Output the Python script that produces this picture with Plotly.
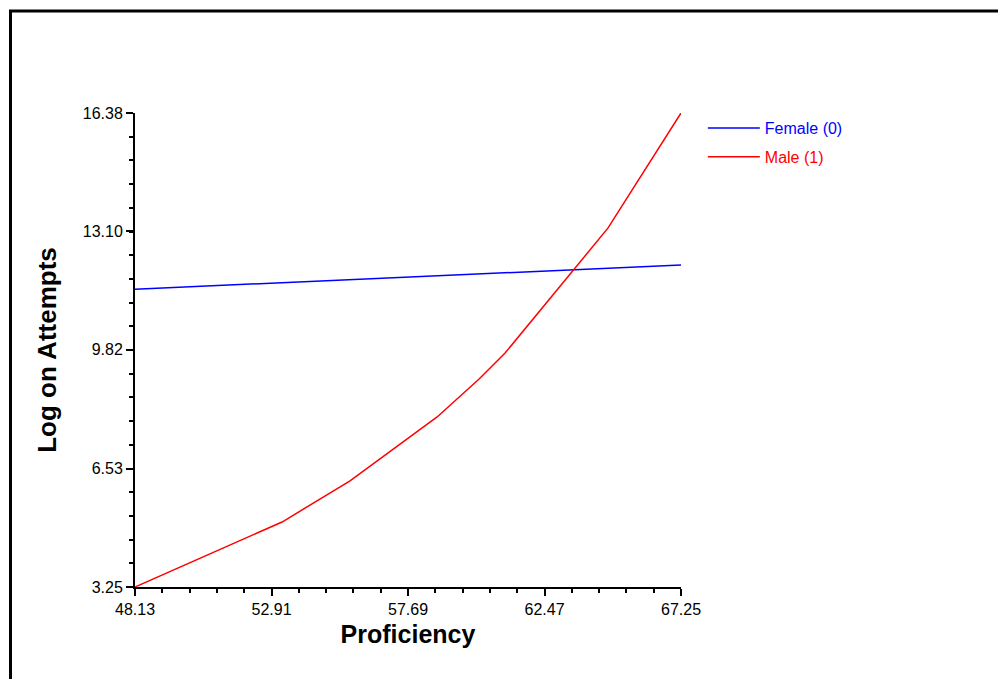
import plotly.graph_objects as go

# Proficiency values where the fitted curves are evaluated
proficiency = [48.13, 53.28, 55.66, 58.71, 60.18, 61.09, 64.69, 67.25]

# Predicted log-on attempts per group
female_attempts = [11.50, 11.68, 11.76, 11.87, 11.92, 11.95, 12.08, 12.17]
male_attempts = [3.25, 5.05, 6.19, 7.96, 9.01, 9.73, 13.19, 16.38]

# Axis tick values and labels
x_ticks = [48.13, 52.91, 57.69, 62.47, 67.25]
x_ticktext = ["48.13", "52.91", "57.69", "62.47", "67.25"]
y_ticks = [3.25, 6.53, 9.82, 13.10, 16.38]
y_ticktext = ["3.25", "6.53", "9.82", "13.10", "16.38"]

FONT = "Liberation Sans, Arial, sans-serif"

fig = go.Figure()
fig.add_trace(go.Scatter(
    x=proficiency, y=female_attempts, mode="lines",
    name="<span style='color:#0000ff'>Female (0)</span>",
    line=dict(color="#0000ff", width=1.5), legendgroup="f",
))
fig.add_trace(go.Scatter(
    x=proficiency, y=male_attempts, mode="lines",
    name="<span style='color:#ff0000'>Male (1)</span>",
    line=dict(color="#ff0000", width=1.5), legendgroup="m",
))

axis_common = dict(
    showgrid=False, zeroline=False, showline=True, linecolor="black",
    linewidth=2, ticks="outside", ticklen=7, tickwidth=2, tickcolor="black",
    tickfont=dict(family=FONT, size=16, color="black"),
    minor=dict(ticks="outside", ticklen=4, tickwidth=1.5, tickcolor="black"),
)

fig.update_xaxes(
    **axis_common, range=[48.13, 67.25], tickvals=x_ticks, ticktext=x_ticktext,
    title=dict(text="<b>Proficiency</b>", font=dict(family=FONT, size=25, color="black"), standoff=8),
)
fig.update_xaxes(minor_dtick=0.956, minor_tick0=48.13)
fig.update_yaxes(
    **axis_common, range=[3.25, 16.38], tickvals=y_ticks, ticktext=y_ticktext,
    title=dict(text="<b>Log on Attempts</b>", font=dict(family=FONT, size=26, color="black"), standoff=19),
)
fig.update_yaxes(minor_dtick=0.6565, minor_tick0=3.25)

# Frame around the whole figure (runs off the right and bottom edges)
fig.add_shape(type="rect", xref="paper", yref="paper",
              x0=(10.5 - 135) / 546, x1=(1010 - 135) / 546,
              y0=(587 - 700) / 474, y1=(587 - 11) / 474,
              line=dict(color="black", width=3), fillcolor="rgba(0,0,0,0)", layer="above")

fig.update_layout(
    width=998, height=679,
    margin=dict(l=135, r=317, t=113, b=92),
    paper_bgcolor="white", plot_bgcolor="white",
    font=dict(family=FONT, size=16, color="black"),
    showlegend=True,
    legend=dict(x=1.04, y=1.004, xanchor="left", yanchor="top",
                font=dict(family=FONT, size=16), traceorder="grouped",
                tracegroupgap=5, itemwidth=52, bgcolor="rgba(0,0,0,0)"),
)

fig.write_html("out.html")
